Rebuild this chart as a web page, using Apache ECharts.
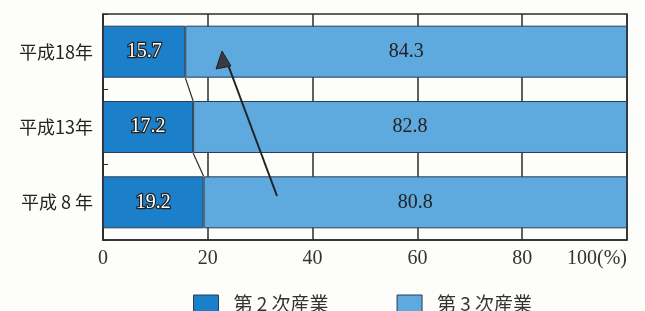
<!DOCTYPE html>
<html>
<head>
<meta charset="utf-8">
<script src="https://cdn.jsdelivr.net/npm/echarts@6/dist/echarts.min.js"></script>
<style>
  html, body { margin: 0; padding: 0; background: #fdfdfb; }
  #main { width: 645px; height: 311px; }
</style>
</head>
<body>
<div id="main"></div>
<script>
// 産業別構成比（%）
const years = ["平成18年", "平成13年", "平成 8 年"];
const secondary = [15.7, 17.2, 19.2];
const tertiary = [84.3, 82.8, 80.8];
const xTicks = [0, 20, 40, 60, 80, 100];

const darkBlue = "#1b80c9";
const lightBlue = "#5ea9de";
const barGap = 0.31;

const chart = echarts.init(document.getElementById("main"));

// 棒と棒をつなぐ線
const links = [];
for (let i = 0; i < secondary.length - 1; i++) {
  links.push([secondary[i], i, secondary[i + 1]]);
}

const option = {
  backgroundColor: "#fdfdfb",
  animation: false,
  grid: {
    left: 103,
    right: 18,
    top: 14,
    bottom: 71,
    show: true,
    borderColor: "#2b2b2b",
    borderWidth: 1.5,
    backgroundColor: "transparent"
  },
  legend: {
    left: 188,
    top: 289,
    itemWidth: 25,
    itemHeight: 17,
    itemGap: 68,
    icon: "rect",
    data: ["第 2 次産業", "第 3 次産業"],
    itemStyle: { borderColor: "#2a3d52", borderWidth: 1 },
    textStyle: {
      fontFamily: "Noto Sans CJK JP",
      fontSize: 19,
      color: "#333",
      padding: [0, 0, 0, 10]
    }
  },
  xAxis: {
    type: "value",
    min: 0,
    max: 100,
    interval: 20,
    axisLine: { show: true, lineStyle: { color: "#2b2b2b", width: 1.5 } },
    axisTick: { show: false },
    splitLine: { show: true, lineStyle: { color: "#2b2b2b", width: 1.5 } },
    axisLabel: {
      margin: 9,
      fontFamily: "Liberation Serif",
      fontSize: 20,
      color: "#333",
      alignMaxLabel: "right",
      formatter: function (v) {
        return xTicks.indexOf(v) < 0 ? "" : (v === 100 ? "100(%)" : String(v));
      }
    }
  },
  yAxis: {
    type: "category",
    inverse: true,
    data: years,
    axisLine: { show: true, lineStyle: { color: "#2b2b2b", width: 1.5 } },
    axisTick: { show: true, inside: true, length: 5, lineStyle: { color: "#2b2b2b" } },
    axisLabel: {
      margin: 10,
      fontFamily: "Noto Sans CJK JP",
      fontSize: 18,
      color: "#222"
    }
  },
  series: [
    {
      name: "第 2 次産業",
      type: "bar",
      stack: "total",
      barCategoryGap: "31%",
      data: secondary,
      itemStyle: { color: darkBlue, borderColor: "#2a3d52", borderWidth: 1 },
      label: {
        show: true,
        position: "inside",
        fontFamily: "Liberation Serif",
        fontSize: 20,
        color: "#fff",
        textBorderColor: "#222",
        textBorderWidth: 2.5
      }
    },
    {
      name: "第 3 次産業",
      type: "bar",
      stack: "total",
      data: tertiary,
      itemStyle: { color: lightBlue, borderColor: "#2a3d52", borderWidth: 1 },
      label: {
        show: true,
        position: "inside",
        fontFamily: "Liberation Serif",
        fontSize: 20,
        color: "#222"
      }
    },
    {
      type: "custom",
      data: links,
      encode: { x: [0, 2], y: 1 },
      z: 5,
      silent: true,
      renderItem: function (params, api) {
        const half = api.size([0, 1])[1] * (1 - barGap) / 2;
        const p1 = api.coord([api.value(0), api.value(1)]);
        const p2 = api.coord([api.value(2), api.value(1) + 1]);
        return {
          type: "line",
          shape: { x1: p1[0], y1: p1[1] + half, x2: p2[0], y2: p2[1] - half },
          style: { stroke: "#2b2b2b", lineWidth: 1.2 }
        };
      }
    }
  ],
  // 矢印（注記）
  graphic: [
    {
      type: "line",
      z: 100,
      shape: { x1: 277, y1: 196, x2: 227, y2: 62 },
      style: { stroke: "#222", lineWidth: 2 }
    },
    {
      type: "polygon",
      z: 100,
      shape: { points: [[222, 51], [216, 69], [231, 66]] },
      style: { fill: "#3a3a44", stroke: "#222", lineWidth: 1 }
    }
  ]
};

chart.setOption(option);
</script>
</body>
</html>
